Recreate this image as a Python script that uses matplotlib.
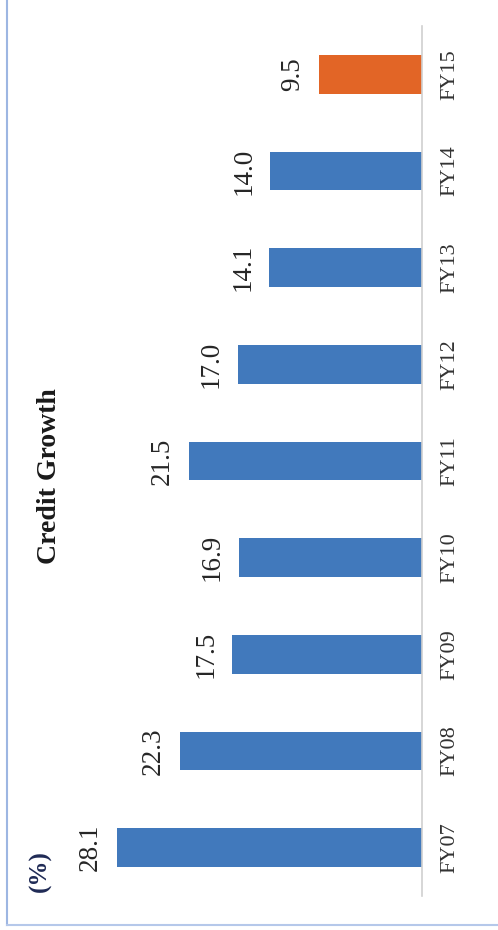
import matplotlib.pyplot as plt
from matplotlib.lines import Line2D

# data
years = ["FY07", "FY08", "FY09", "FY10", "FY11", "FY12", "FY13", "FY14", "FY15"]
growth = [28.1, 22.3, 17.5, 16.9, 21.5, 17.0, 14.1, 14.0, 9.5]
colors = ["#4179BC"] * 8 + ["#E26526"]

plt.rcParams['font.family'] = ['Liberation Serif', 'DejaVu Serif']

W, H = 498, 930
fig = plt.figure(figsize=(W / 100, H / 100), dpi=100)

# chart is drawn turned on its side: bars grow leftward, text reads bottom-up
ax = fig.add_axes([30 / W, 34 / H, 392 / W, 870 / H])
pos = list(range(len(years)))
ax.barh(pos, growth, height=0.4, color=colors)
ax.set_xlim(392 / 10.85, 0)
ax.set_ylim(-0.5, len(years) - 0.5)

for s in ['top', 'bottom', 'left']:
    ax.spines[s].set_visible(False)
ax.spines['right'].set_color('#d0d0d0')
ax.spines['right'].set_linewidth(1.2)
ax.set_xticks([])
ax.yaxis.tick_right()
ax.set_yticks(pos)
ax.set_yticklabels(years, rotation=90, va='center', fontsize=16, color='#333333')
ax.tick_params(axis='y', length=0, pad=13)

# value labels
for i, v in enumerate(growth):
    ax.annotate("{:.1f}".format(v), (v, i), xytext=(-10, 0), textcoords='offset points',
                rotation=90, ha='right', va='center', fontsize=19.5, color='#262626')

# title and unit
fig.text(49 / W, 1 - 476 / H, "Credit Growth", rotation=90, ha='center', va='center',
         fontsize=20, fontweight='bold', color='#1a1a1a')
fig.text(40 / W, 1 - 871 / H, "(%)", rotation=90, ha='center', va='center',
         fontsize=18, fontweight='bold', color='#1F2A55')

# thin frame lines on the left and bottom
fig.add_artist(Line2D([7 / W, 7 / W], [1 - 925 / H, 1], transform=fig.transFigure,
                      color='#9DB6E2', lw=1.5))
fig.add_artist(Line2D([7 / W, 1], [1 - 925 / H, 1 - 925 / H], transform=fig.transFigure,
                      color='#B5C8EA', lw=1.5))

plt.savefig('out.png', dpi=100)
